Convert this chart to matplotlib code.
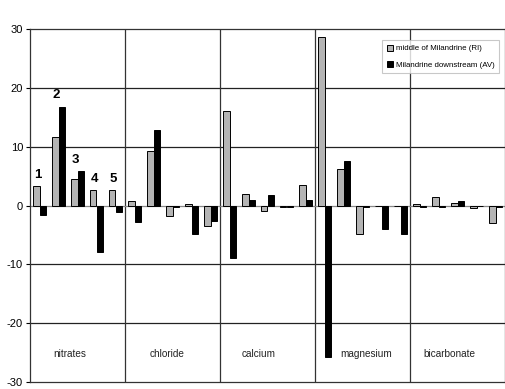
import matplotlib
matplotlib.use("Agg")
import matplotlib.pyplot as plt
import numpy as np

plt.rcParams['font.family'] = ['Liberation Sans', 'DejaVu Sans']

groups = ["nitrates", "chloride", "calcium", "magnesium", "bicarbonate"]
middle_RI = [3.3, 11.7, 4.5, 2.6, 2.6,
             0.8, 9.3, -1.8, 0.2, -3.4,
             16.1, 2.0, -1.0, -0.2, 3.5,
             28.6, 6.2, -4.8, -0.1, -0.1,
             0.2, 1.5, 0.45, -0.5, -2.9]
downstream_AV = [-1.6, 16.8, 5.8, -7.9, -1.1,
                 -2.8, 12.9, -0.2, -4.9, -2.6,
                 -8.9, 1.0, 1.8, -0.2, 1.0,
                 -25.8, 7.5, -0.2, -4.0, -4.8,
                 -0.3, -0.2, 0.8, -0.15, -0.2]
site_labels = ["1", "2", "3", "4", "5"]
yticks = [-30, -20, -10, 0, 10, 20, 30]

fig = plt.figure(figsize=(5.05, 3.89), dpi=100)
ax = fig.add_axes([30/505, 7/389, 475/505, 353/389])

x = np.arange(len(middle_RI))
w = 0.32
ax.bar(x - w/2, middle_RI, width=w, color="#b4b4b4", edgecolor="black", linewidth=0.7,
       label="middle of Milandrine (RI)", zorder=3)
ax.bar(x + w/2, downstream_AV, width=w, color="black", edgecolor="black", linewidth=0.7,
       label="Milandrine downstream (AV)", zorder=3)

ax.set_xlim(-0.5, len(x) - 0.5)
ax.set_ylim(-30, 30)
ax.set_yticks(yticks)
ax.set_yticklabels([str(t) for t in yticks], fontsize=8)
ax.set_xticks([])
ax.tick_params(axis='y', length=3, width=0.8, pad=2)

for t in [-20, -10, 10, 20]:
    ax.axhline(t, color="#222222", linewidth=0.9, zorder=1)
ax.axhline(0, color="#888888", linewidth=0.9, zorder=2)
for g in range(1, len(groups)):
    ax.axvline(g * 5 - 0.5, color="#333333", linewidth=0.9, zorder=1)

for s in ax.spines.values():
    s.set_linewidth(0.9)
    s.set_color("#333333")

label_x = [1.6, 6.7, 11.55, 17.2, 21.55]
for gx, name in zip(label_x, groups):
    ax.text(gx, -25.2, name, ha="center", va="center", fontsize=7.2, color="#222222")

for i, lab in enumerate(site_labels):
    top = max(middle_RI[i], downstream_AV[i], 0)
    ax.text(i - 0.1, top + 0.9, lab, ha="center", va="bottom", fontsize=9.5,
            fontweight="bold")

leg = ax.legend(loc="upper right", bbox_to_anchor=(0.988, 0.968), fontsize=5.7,
                frameon=True, fancybox=False, handlelength=0.8, handleheight=0.8,
                handletextpad=0.4, borderpad=0.55, labelspacing=1.1,
                borderaxespad=0)
leg.get_frame().set_edgecolor("#bbbbbb")
leg.get_frame().set_linewidth(0.8)

fig.savefig("out.png", dpi=100)
